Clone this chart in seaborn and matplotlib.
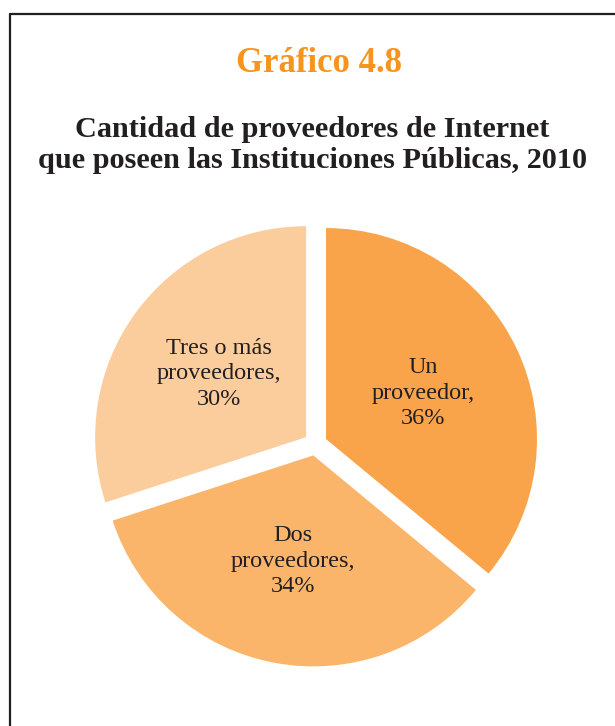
import matplotlib
matplotlib.use("Agg")
import matplotlib.pyplot as plt
from matplotlib.lines import Line2D
import seaborn as sns

# Data
categories = ["Un\nproveedor,", "Dos\nproveedores,", "Tres o más\nproveedores,"]
shares = [36, 34, 30]
slice_colors = ["#F9A44A", "#FBB56B", "#FBCD9D"]

title = "Gráfico 4.8"
subtitle = "Cantidad de proveedores de Internet\nque poseen las Instituciones Públicas, 2010"

sns.set_style("white")
plt.rcParams["font.family"] = ["Liberation Serif", "DejaVu Serif"]

W, H = 615, 726
fig = plt.figure(figsize=(W / 100, H / 100), dpi=100)

# Pie geometry in pixels (from top-left), converted to unit-radius axes
cx, cy, R = 315.5, 444.0, 211.0
ax = fig.add_axes([0, 0, 1, 1])

palette = sns.color_palette(slice_colors)
labels = [f"{c}\n{v}%" for c, v in zip(categories, shares)]
wedges, texts = ax.pie(
    shares,
    labels=labels,
    colors=palette,
    startangle=90,
    counterclock=False,
    explode=[0.055] * len(shares),
    radius=1.0,
    labeldistance=0.51,
    wedgeprops=dict(linewidth=0),
    textprops=dict(fontsize=17.5, color="#231f20", linespacing=1.27),
)
for t in texts:
    t.set_horizontalalignment("center")
    t.set_verticalalignment("center")

# pie() resets the limits, so set them afterwards
ax.set_xlim(-cx / R, (W - cx) / R)
ax.set_ylim(-(H - cy) / R, cy / R)
ax.set_aspect("equal", adjustable="box")
ax.axis("off")

# Headings
fig.text(0.519, 1 - 64 / H, title, ha="center", va="center",
         fontsize=25, fontweight="bold", color="#F7941D")
fig.text(0.508, 1 - 145 / H, subtitle, ha="center", va="center",
         fontsize=21.8, fontweight="bold", color="#231f20", linespacing=1.17)

# Frame around the panel
frame_kw = dict(color="#231f20", linewidth=1.6, transform=fig.transFigure)
fig.add_artist(Line2D([9.5 / W, 9.5 / W], [0, 1 - 14 / H], **frame_kw))
fig.add_artist(Line2D([9.5 / W, 1.0], [1 - 14 / H, 1 - 14 / H], **frame_kw))

fig.savefig("out.png", dpi=100, facecolor="white")
